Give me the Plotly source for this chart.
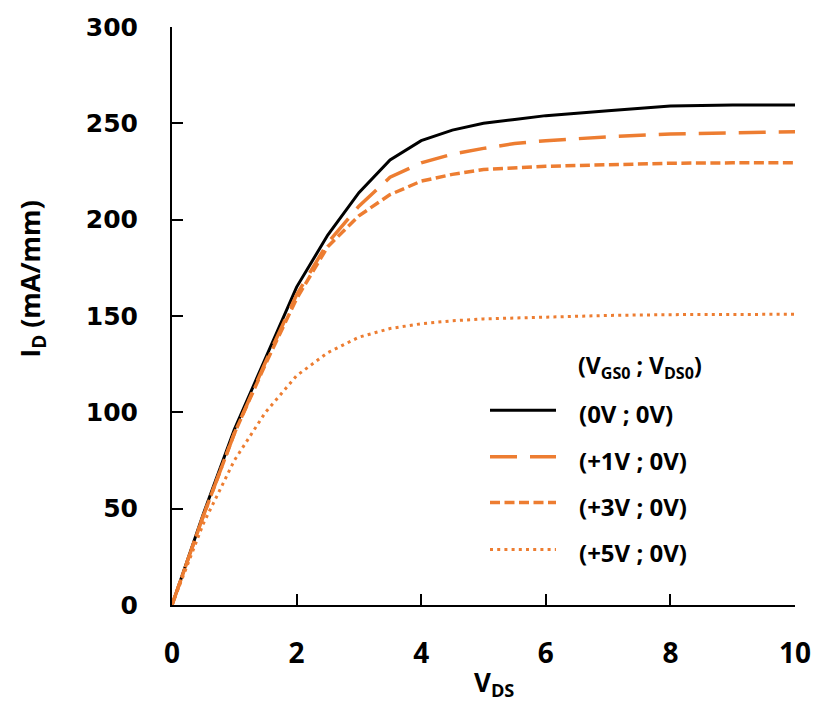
import plotly.graph_objects as go

# ---- data ----
vds = [0, 0.5, 1, 1.5, 2, 2.5, 3, 3.5, 4, 4.5, 5, 5.5, 6, 7, 8, 9, 10]
id_0v = [0, 47, 91, 128, 165, 192, 214, 231, 241, 246.5, 250, 252, 254, 256.5, 259, 259.5, 259.5]
id_1v = [0, 46, 89, 126, 161, 188, 207, 222, 229.5, 234, 237, 239.5, 241, 243, 244.5, 245, 245.6]
id_3v = [0, 46, 89, 125, 159, 186, 202, 213, 220, 223.5, 226, 227, 227.7, 228.5, 229.3, 229.5, 229.5]
id_5v = [0, 42, 75, 100, 119, 131, 139, 143.5, 146, 147.5, 148.5, 149, 149.5, 150.3, 150.7, 150.8, 150.9]

series_names = ["(0V ; 0V)", "(+1V ; 0V)", "(+3V ; 0V)", "(+5V ; 0V)"]
legend_title = "(V<sub>GS0</sub> ; V<sub>DS0</sub>)"
x_ticks = [0, 2, 4, 6, 8, 10]
y_ticks = [0, 50, 100, 150, 200, 250, 300]

ORANGE = "#ED7D31"
styles = [
    dict(color="black", width=3, dash="solid"),
    dict(color=ORANGE, width=3.5, dash="27px,13px"),
    dict(color=ORANGE, width=3.5, dash="10px,4.5px"),
    dict(color=ORANGE, width=3, dash="3px,4.2px"),
]

fig = go.Figure()
for name, ys, st in zip(series_names, [id_0v, id_1v, id_3v, id_5v], styles):
    fig.add_trace(go.Scatter(x=vds, y=ys, mode="lines", name=name,
                             line=st, showlegend=False))

# plot-area geometry in pixels (for legend placement)
L, R, T, B = 172, 20, 27, 98.5
W, H = 815, 704
pw, ph = W - L - R, H - T - B
def px_x(p):
    return (p - L) / pw
def px_y(p):
    return (H - B - p) / ph

# custom legend (long sample lines like the reference)
line_y = [410.7, 457, 503, 550]
text_y = [414, 461, 507, 553]
shapes = []
annotations = []
for st, ly, ty, name in zip(styles, line_y, text_y, series_names):
    shapes.append(dict(type="line", xref="paper", yref="paper",
                       x0=px_x(490), x1=px_x(556), y0=px_y(ly), y1=px_y(ly),
                       line=st))
    annotations.append(dict(xref="paper", yref="paper", x=px_x(577), y=px_y(ty),
                            xanchor="left", yanchor="middle", showarrow=False,
                            text="<b>" + name + "</b>",
                            font=dict(family="Open Sans", size=24, color="black")))
annotations.append(dict(xref="paper", yref="paper", x=px_x(576), y=px_y(367),
                        xanchor="left", yanchor="middle", showarrow=False,
                        text="<b>" + legend_title + "</b>",
                        font=dict(family="Open Sans", size=23, color="black")))
# axis titles
annotations.append(dict(xref="paper", yref="paper", x=px_x(494), y=px_y(684),
                        xanchor="center", yanchor="middle", showarrow=False,
                        text="<b>V<sub>DS</sub></b>",
                        font=dict(family="Open Sans", size=26, color="black")))
annotations.append(dict(xref="paper", yref="paper", x=px_x(32), y=px_y(279),
                        xanchor="center", yanchor="middle", showarrow=False,
                        textangle=-90,
                        text="<b>I<sub>D</sub> (mA/mm)</b>",
                        font=dict(family="Open Sans", size=27, color="black")))

fig.update_layout(
    width=W, height=H,
    margin=dict(l=L, r=R, t=T, b=B, autoexpand=False),
    plot_bgcolor="white", paper_bgcolor="white",
    shapes=shapes, annotations=annotations,
    showlegend=False,
)
fig.update_xaxes(range=[0, 10], tickvals=x_ticks, ticks="inside", ticklen=11,
                 tickwidth=2, tickcolor="black", showline=True, linecolor="black",
                 linewidth=2, showgrid=False, zeroline=False, automargin=False,
                 ticklabelstandoff=22,
                 tickfont=dict(family="Open Sans", size=28, color="black",
                               weight="bold"))
fig.update_yaxes(range=[0, 300], tickvals=y_ticks, ticks="inside", ticklen=11,
                 tickwidth=2, tickcolor="black", showline=True, linecolor="black",
                 linewidth=2, showgrid=False, zeroline=False, automargin=False,
                 ticklabelstandoff=27,
                 tickfont=dict(family="DejaVu Sans", size=25, color="black",
                               weight="bold"))

fig.write_html("out.html", config={"displayModeBar": False},
               post_script="document.body.style.margin='0';document.body.style.overflow='hidden';")
